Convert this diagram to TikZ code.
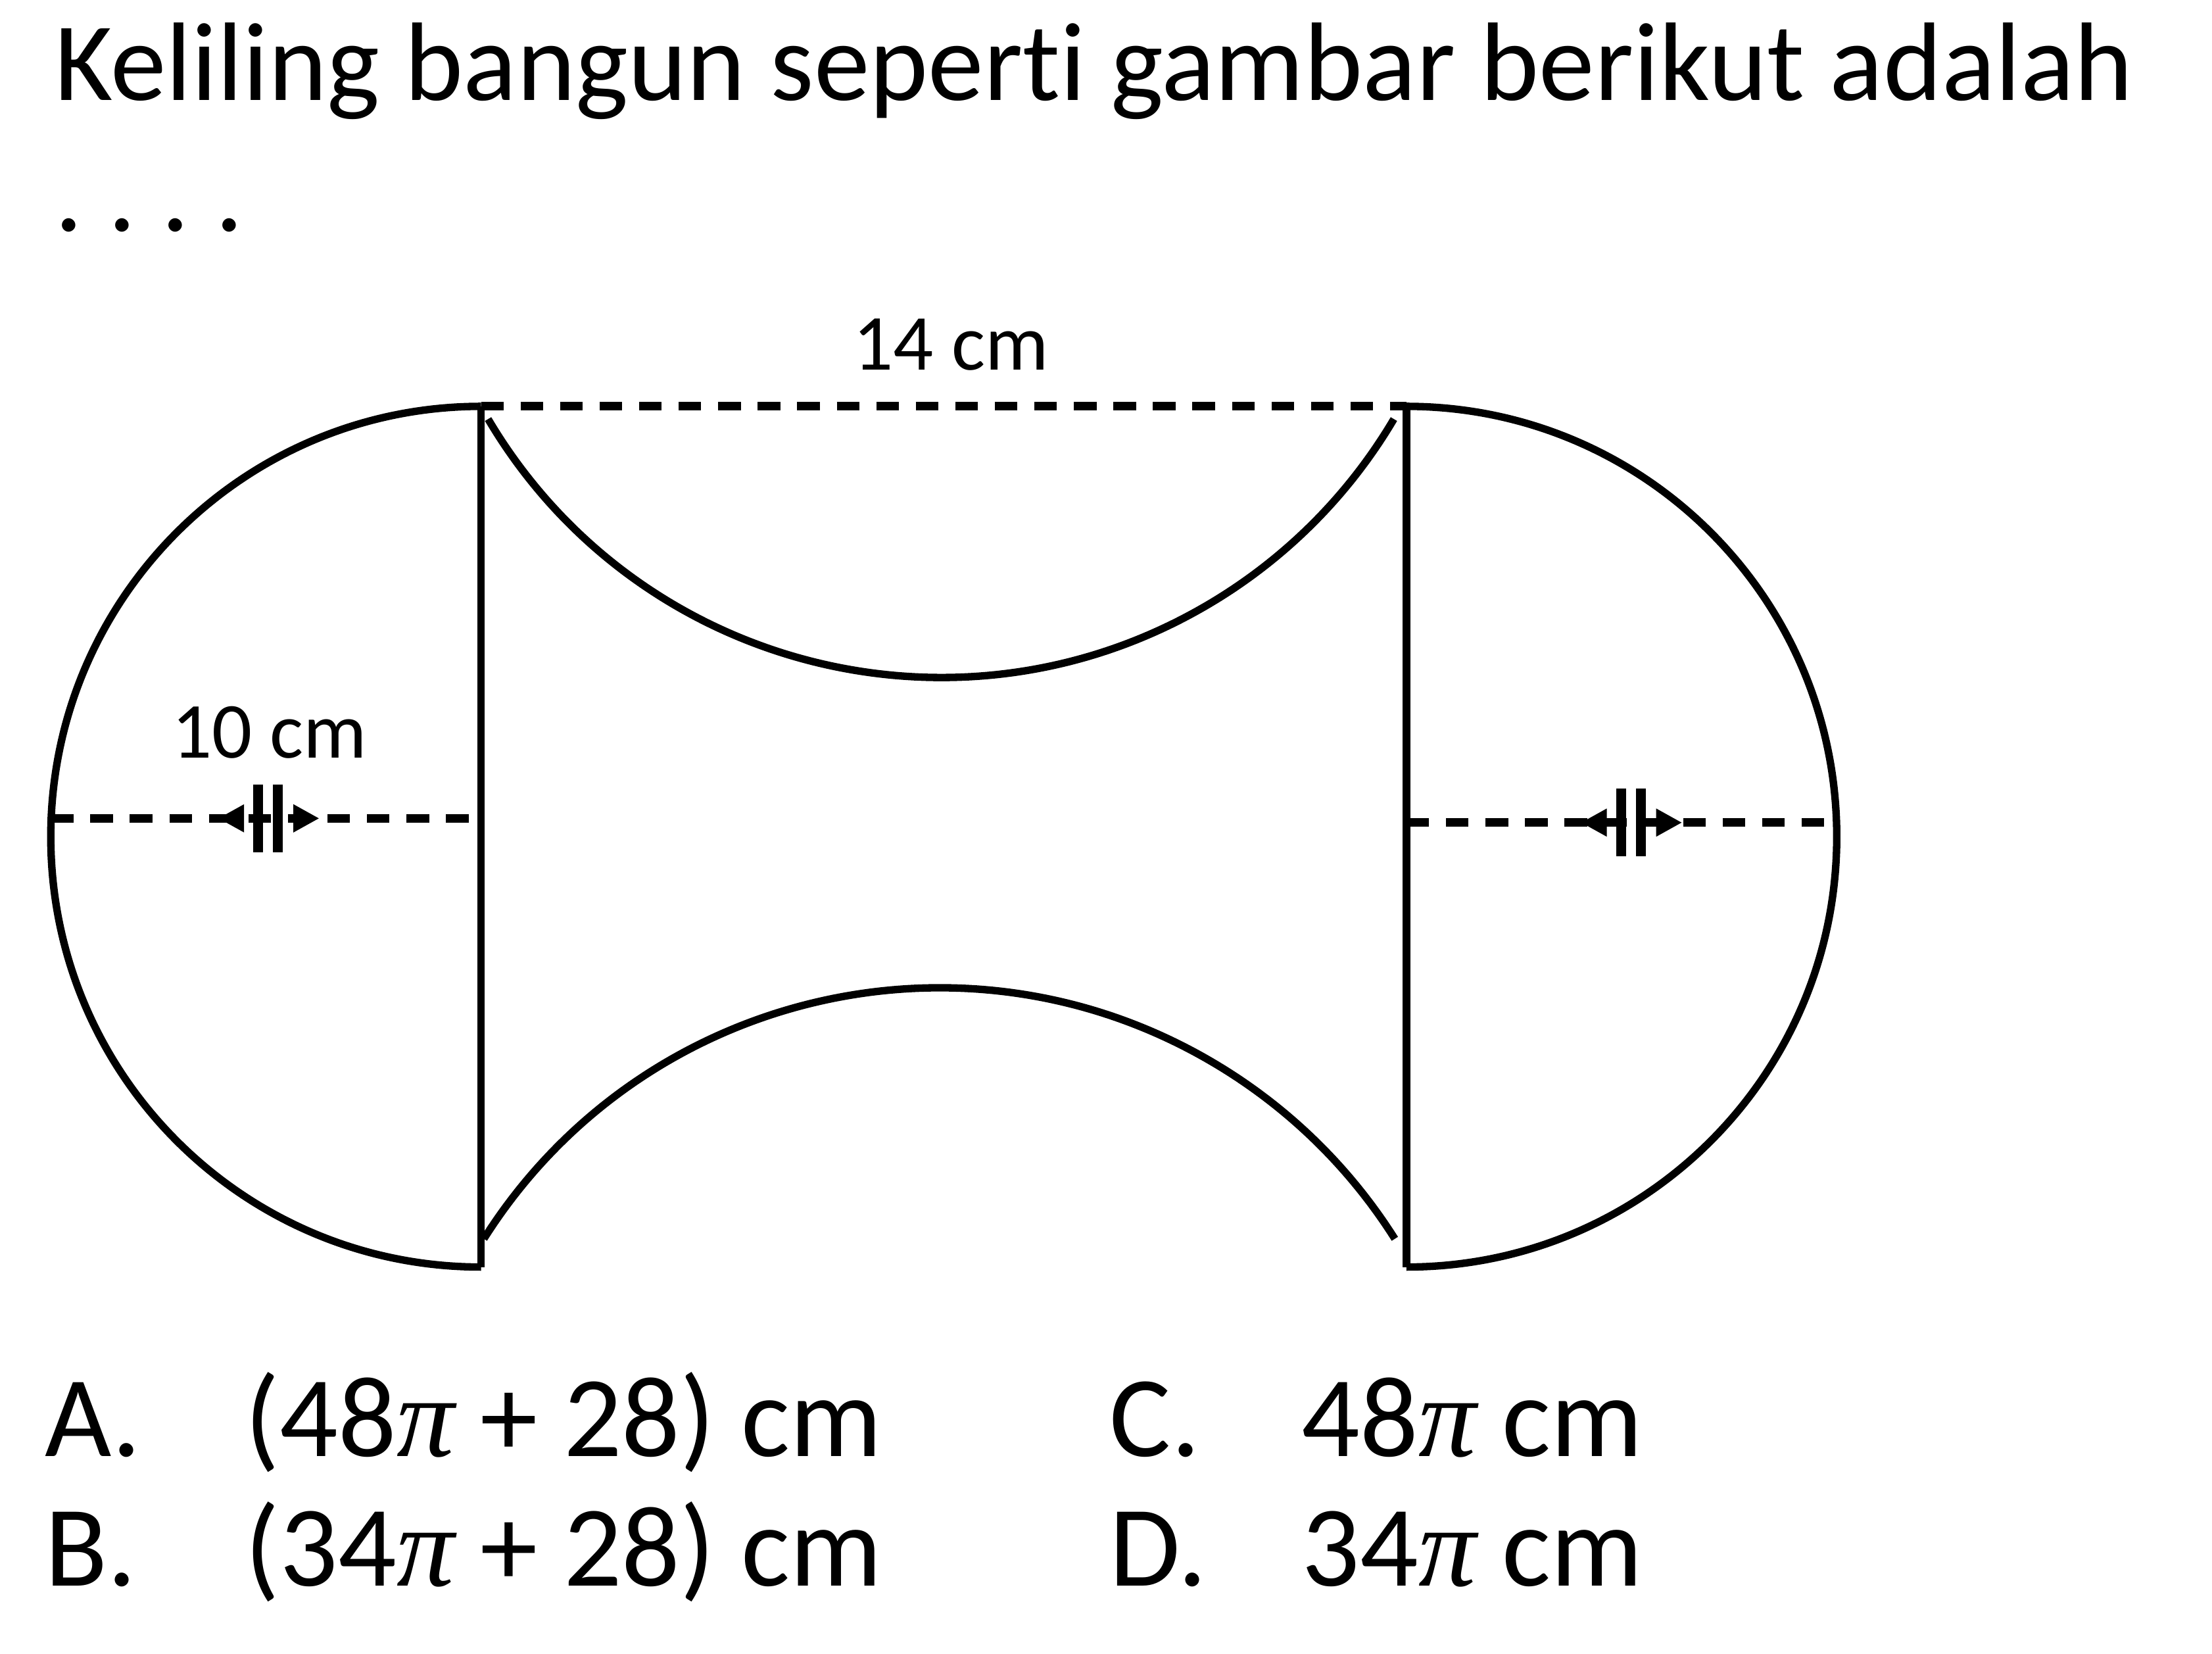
\documentclass[tikz,border=0pt]{standalone}
\usepackage{fontspec}
\setmainfont[Ligatures=NoCommon]{Carlito}
\newfontfamily\pifont{Liberation Serif}
\newcommand{\pii}{{\pifont\itshape π}}

\tikzset{
  outline/.style={line width=1.5pt, line join=round},
  dimline/.style={line width=1.7pt, dash pattern=on 0.16cm off 0.12cm},
  txt/.style={inner sep=0pt, font=\fontsize{22.5pt}{27pt}\selectfont},
  choice/.style={inner sep=0pt, font=\fontsize{23.2pt}{28pt}\selectfont},
  lbl/.style={inner sep=0pt, font=\fontsize{16pt}{19pt}\selectfont},
}

\begin{document}
\begin{tikzpicture}[x=0.01cm, y=0.01cm]
\useasboundingbox (0,0) rectangle (1568,-1172);

% question
\node (question) [txt, anchor=base west] at (38,-71) {Keliling bangun seperti gambar berikut adalah};
\node (dots) [txt, anchor=base west] at (38,-164) {.\kern0.18cm.\kern0.18cm.\kern0.18cm.};

% corners of the middle part
\coordinate (tl) at (341,-288);
\coordinate (bl) at (341,-898);
\coordinate (tr) at (997,-288);
\coordinate (br) at (997,-898);

% half circles at the ends
\draw[outline] (tl) arc[start angle=90, end angle=270, radius=305];
\draw[outline] (tr) arc[start angle=90, end angle=-90, radius=305];
\draw[outline] (tl) -- (bl);
\draw[outline] (tr) -- (br);

% cut-out arcs
\coordinate (ti) at (346,-297);
\coordinate (bi) at (343,-878);
\draw[outline] (ti) arc[start angle=210.6, end angle=329.4, radius=373];
\draw[outline] (bi) arc[start angle=147.7, end angle=32.3, radius=382];

% dashed measures
\coordinate (ld) at (36,-580);
\coordinate (lm) at (341,-580);
\coordinate (rm) at (997,-583);
\coordinate (rd) at (1302,-583);
\draw[dimline] (tl) -- (tr);
\draw[dimline] (ld) -- (lm);
\draw[dimline] (rm) -- (rd);
\foreach \cx/\cy in {190/-580, 1156/-583} {
  \fill (\cx-35,\cy) -- (\cx-17,\cy+10) -- (\cx-17,\cy-10) -- cycle;
  \draw[line width=2pt] (\cx-7,\cy+24) -- (\cx-7,\cy-24) (\cx+7,\cy+24) -- (\cx+7,\cy-24);
  \fill (\cx+36,\cy) -- (\cx+18,\cy+10) -- (\cx+18,\cy-10) -- cycle;
}
\node (top) [lbl, anchor=base] at (674,-262) {14 cm};
\node (diam) [lbl, anchor=base] at (191,-537) {10 cm};

% choices
\node (optA) [choice, anchor=base west] at (31,-1032) {A.};
\node (ansA) [choice, anchor=base west] at (173,-1032) {(48\pii{} + 28) cm};
\node (optB) [choice, anchor=base west] at (31,-1124) {B.};
\node (ansB) [choice, anchor=base west] at (173,-1124) {(34\pii{} + 28) cm};
\node (optC) [choice, anchor=base west] at (786,-1032) {C.};
\node (ansC) [choice, anchor=base west] at (922,-1032) {48\pii{} cm};
\node (optD) [choice, anchor=base west] at (786,-1124) {D.};
\node (ansD) [choice, anchor=base west] at (922,-1124) {34\pii{} cm};
\end{tikzpicture}
\end{document}
